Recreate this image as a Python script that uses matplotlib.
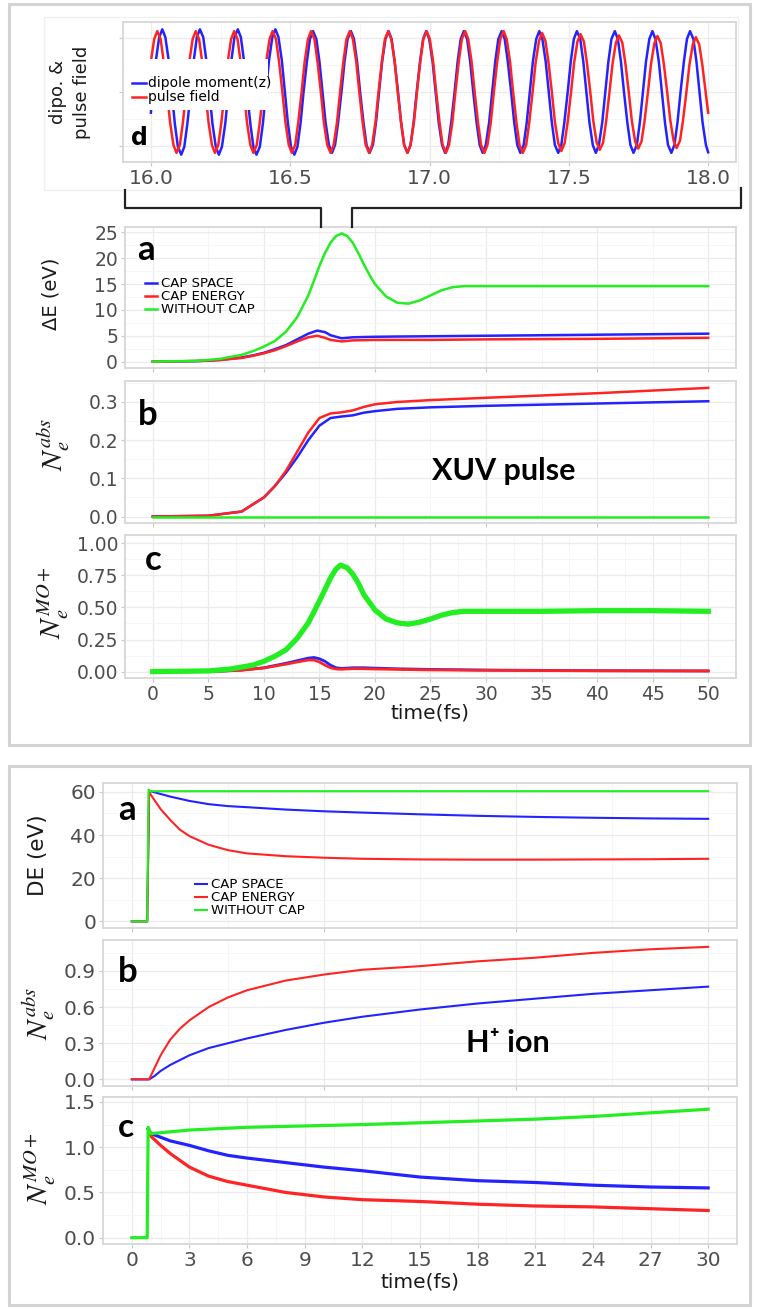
import matplotlib.pyplot as plt
from matplotlib.patches import Rectangle
from matplotlib.lines import Line2D
from matplotlib.ticker import MultipleLocator, FixedLocator, FormatStrFormatter

plt.rcParams['font.family'] = ['DejaVu Sans']
plt.rcParams['mathtext.fontset'] = 'stix'

BLUE = '#2323ff'
RED = '#ff2323'
GREEN = '#22ee22'

# panel d : dipole moment(z) and pulse field, 16-18 fs (one row = one cycle)
d_blue_t = sum([
    [16.000, 16.007, 16.018, 16.030, 16.041, 16.052, 16.064, 16.075, 16.086, 16.097, 16.109, 16.120, 16.131],
    [16.143, 16.154, 16.165, 16.176, 16.188, 16.199, 16.210, 16.221, 16.233, 16.244, 16.255, 16.267],
    [16.278, 16.289, 16.300, 16.312, 16.323, 16.334, 16.345, 16.357, 16.368, 16.379, 16.391, 16.402],
    [16.413, 16.424, 16.436, 16.447, 16.458, 16.470, 16.481, 16.492, 16.503, 16.515, 16.526, 16.537],
    [16.548, 16.560, 16.571, 16.582, 16.594, 16.605, 16.616, 16.627, 16.639, 16.650, 16.661, 16.672],
    [16.684, 16.695, 16.706, 16.718, 16.729, 16.740, 16.751, 16.763, 16.774, 16.785, 16.797, 16.808],
    [16.819, 16.830, 16.842, 16.853, 16.864, 16.875, 16.887, 16.898, 16.909, 16.921, 16.932, 16.943],
    [16.954, 16.966, 16.977, 16.988, 16.999, 17.011, 17.022, 17.033, 17.045, 17.056, 17.067, 17.078],
    [17.090, 17.101, 17.112, 17.123, 17.135, 17.146, 17.157, 17.169, 17.180, 17.191, 17.202, 17.214],
    [17.225, 17.236, 17.247, 17.259, 17.270, 17.281, 17.293, 17.304, 17.315, 17.326, 17.338, 17.349],
    [17.360, 17.371, 17.383, 17.394, 17.405, 17.417, 17.428, 17.439, 17.450, 17.462, 17.473, 17.484],
    [17.496, 17.507, 17.518, 17.529, 17.541, 17.552, 17.563, 17.574, 17.586, 17.597, 17.608, 17.620],
    [17.631, 17.642, 17.653, 17.665, 17.676, 17.687, 17.698, 17.710, 17.721, 17.732, 17.744, 17.755],
    [17.766, 17.777, 17.789, 17.800, 17.811, 17.823, 17.834, 17.845, 17.856, 17.868, 17.879, 17.890],
    [17.901, 17.913, 17.924, 17.935, 17.947, 17.958, 17.969, 17.980, 17.992, 18.000],
], [])
d_blue_v = sum([
    [-0.34, 0.00, 0.52, 0.90, 1.03, 0.90, 0.52, 0.00, -0.52, -0.90, -1.03, -0.90, -0.52],
    [0.00, 0.52, 0.90, 1.03, 0.90, 0.52, 0.00, -0.52, -0.90, -1.03, -0.90, -0.52],
    [0.00, 0.52, 0.90, 1.03, 0.90, 0.52, 0.00, -0.52, -0.90, -1.03, -0.90, -0.52],
    [0.00, 0.52, 0.90, 1.03, 0.90, 0.52, 0.00, -0.52, -0.90, -1.03, -0.90, -0.52],
    [0.00, 0.50, 0.87, 1.00, 0.87, 0.50, 0.00, -0.50, -0.87, -1.00, -0.87, -0.50],
    [0.00, 0.50, 0.87, 1.00, 0.87, 0.50, 0.00, -0.50, -0.87, -1.00, -0.87, -0.50],
    [0.00, 0.50, 0.87, 1.00, 0.87, 0.50, 0.00, -0.50, -0.87, -1.00, -0.87, -0.50],
    [0.00, 0.50, 0.87, 1.00, 0.87, 0.50, 0.00, -0.50, -0.87, -1.00, -0.87, -0.50],
    [0.00, 0.50, 0.87, 1.00, 0.87, 0.50, 0.00, -0.50, -0.87, -1.00, -0.87, -0.50],
    [0.00, 0.50, 0.87, 1.00, 0.87, 0.50, 0.00, -0.50, -0.87, -1.00, -0.87, -0.50],
    [0.00, 0.50, 0.87, 1.00, 0.87, 0.50, 0.00, -0.50, -0.87, -1.00, -0.87, -0.50],
    [0.00, 0.50, 0.87, 1.00, 0.87, 0.50, 0.00, -0.50, -0.87, -1.00, -0.87, -0.50],
    [0.00, 0.50, 0.87, 1.00, 0.87, 0.50, 0.00, -0.50, -0.87, -1.00, -0.87, -0.50],
    [0.00, 0.50, 0.87, 1.00, 0.87, 0.50, 0.00, -0.50, -0.87, -1.00, -0.87, -0.50],
    [0.00, 0.50, 0.87, 1.00, 0.87, 0.50, 0.00, -0.50, -0.87, -0.99],
], [])
d_red_t = sum([
    [16.000, 16.012, 16.023, 16.035, 16.046, 16.058, 16.069, 16.081, 16.092, 16.104, 16.115],
    [16.127, 16.138, 16.150, 16.161, 16.173, 16.184, 16.196, 16.207, 16.219, 16.230, 16.242, 16.253],
    [16.265, 16.276, 16.288, 16.299, 16.311, 16.322, 16.334, 16.345, 16.357, 16.368, 16.380, 16.391],
    [16.403, 16.414, 16.426, 16.437, 16.449, 16.460, 16.472, 16.483, 16.495, 16.506, 16.518, 16.529],
    [16.541, 16.552, 16.564, 16.575, 16.587, 16.598, 16.610, 16.621, 16.633, 16.645, 16.656, 16.668],
    [16.679, 16.691, 16.702, 16.714, 16.725, 16.737, 16.748, 16.760, 16.771, 16.783, 16.794, 16.806],
    [16.817, 16.829, 16.840, 16.852, 16.863, 16.875, 16.886, 16.898, 16.909, 16.921, 16.932, 16.944],
    [16.955, 16.967, 16.978, 16.990, 17.001, 17.013, 17.024, 17.036, 17.047, 17.059, 17.070, 17.082],
    [17.093, 17.105, 17.116, 17.128, 17.139, 17.151, 17.162, 17.174, 17.185, 17.197, 17.208, 17.220],
    [17.231, 17.243, 17.254, 17.266, 17.277, 17.289, 17.300, 17.312, 17.323, 17.335, 17.347, 17.358],
    [17.370, 17.381, 17.393, 17.404, 17.416, 17.427, 17.439, 17.450, 17.462, 17.473, 17.485, 17.496],
    [17.508, 17.519, 17.531, 17.542, 17.554, 17.565, 17.577, 17.588, 17.600, 17.611, 17.623, 17.634],
    [17.646, 17.657, 17.669, 17.680, 17.692, 17.703, 17.715, 17.726, 17.738, 17.749, 17.761, 17.772],
    [17.784, 17.795, 17.807, 17.818, 17.830, 17.841, 17.853, 17.864, 17.876, 17.887, 17.899, 17.910],
    [17.922, 17.933, 17.945, 17.956, 17.968, 17.979, 17.991, 18.000],
], [])
d_red_v = sum([
    [0.50, 0.87, 1.00, 0.87, 0.50, 0.00, -0.50, -0.87, -1.00, -0.87, -0.50],
    [0.00, 0.50, 0.87, 1.00, 0.87, 0.50, 0.00, -0.50, -0.87, -1.00, -0.87, -0.50],
    [0.00, 0.50, 0.87, 1.00, 0.87, 0.50, 0.00, -0.50, -0.87, -1.00, -0.87, -0.50],
    [0.00, 0.50, 0.87, 1.00, 0.87, 0.50, 0.00, -0.50, -0.87, -1.00, -0.87, -0.50],
    [0.00, 0.50, 0.87, 1.00, 0.87, 0.50, 0.00, -0.50, -0.87, -1.00, -0.87, -0.50],
    [0.00, 0.50, 0.87, 1.00, 0.87, 0.50, 0.00, -0.50, -0.87, -1.00, -0.87, -0.50],
    [0.00, 0.50, 0.87, 1.00, 0.87, 0.50, 0.00, -0.50, -0.87, -1.00, -0.87, -0.50],
    [0.00, 0.50, 0.87, 1.00, 0.87, 0.50, 0.00, -0.50, -0.87, -1.00, -0.87, -0.50],
    [0.00, 0.50, 0.87, 1.00, 0.87, 0.50, 0.00, -0.50, -0.87, -1.00, -0.87, -0.50],
    [0.00, 0.50, 0.87, 1.00, 0.87, 0.50, 0.00, -0.50, -0.87, -1.00, -0.87, -0.50],
    [0.00, 0.49, 0.84, 0.97, 0.84, 0.49, 0.00, -0.49, -0.84, -0.97, -0.84, -0.49],
    [0.00, 0.48, 0.83, 0.95, 0.83, 0.48, 0.00, -0.48, -0.83, -0.95, -0.83, -0.48],
    [0.00, 0.47, 0.81, 0.93, 0.81, 0.47, 0.00, -0.47, -0.81, -0.93, -0.81, -0.47],
    [0.00, 0.46, 0.80, 0.92, 0.80, 0.46, 0.00, -0.46, -0.80, -0.92, -0.80, -0.46],
    [0.00, 0.45, 0.78, 0.90, 0.78, 0.45, 0.00, -0.34],
], [])

# XUV pulse block, 0-50 fs
xuv_de_t_green = [0, 4, 6, 8, 9, 10, 11, 12, 13, 14, 14.5, 15, 15.5, 16, 16.5, 17, 17.5, 18,
                  18.5, 19, 19.5, 20, 21, 22, 23, 24, 25, 26, 27, 28, 30, 40, 50]
xuv_de_green = [0, 0.15, 0.5, 1.3, 2.0, 2.9, 4.0, 5.8, 8.6, 12.8, 15.6, 18.5, 21.0, 23.0, 24.3,
                24.8, 24.3, 23.0, 21.0, 18.8, 16.8, 15.0, 12.6, 11.4, 11.2, 11.8, 12.8, 13.8,
                14.4, 14.6, 14.6, 14.6, 14.6]
xuv_de_t_cap = [0, 4, 6, 8, 9, 10, 11, 12, 13, 14, 14.8, 15.5, 16, 17, 18, 20, 22, 25, 30, 40, 50]
xuv_de_space = [0, 0.1, 0.3, 0.8, 1.2, 1.7, 2.4, 3.2, 4.3, 5.4, 6.0, 5.7, 5.1, 4.5, 4.7, 4.8,
                4.85, 4.9, 5.0, 5.2, 5.4]
xuv_de_energy = [0, 0.1, 0.3, 0.7, 1.1, 1.6, 2.2, 3.0, 3.9, 4.7, 5.0, 4.6, 4.2, 3.9, 4.1, 4.2,
                 4.2, 4.2, 4.3, 4.4, 4.6]

xuv_abs_t = [0, 5, 8, 10, 11, 12, 13, 14, 15, 16, 17, 18, 19, 20, 22, 25, 30, 40, 50]
xuv_abs_space = [0, 0.002, 0.013, 0.05, 0.08, 0.115, 0.155, 0.20, 0.238, 0.258, 0.262, 0.265,
                 0.272, 0.276, 0.282, 0.286, 0.290, 0.296, 0.302]
xuv_abs_energy = [0, 0.002, 0.013, 0.05, 0.08, 0.12, 0.17, 0.22, 0.258, 0.27, 0.273, 0.278,
                  0.287, 0.294, 0.300, 0.305, 0.311, 0.323, 0.337]
xuv_abs_t_green = [0, 50]
xuv_abs_green = [0, 0]

xuv_mo_t_green = [0, 5, 7, 8, 9, 10, 11, 12, 13, 14, 15, 15.5, 16, 16.5, 16.9, 17.5, 18, 18.5,
                  19, 19.5, 20, 21, 22, 23, 24, 25, 26, 27, 28, 30, 35, 40, 45, 50]
xuv_mo_green = [0, 0.005, 0.02, 0.035, 0.05, 0.08, 0.12, 0.17, 0.26, 0.38, 0.55, 0.64, 0.73,
                0.80, 0.83, 0.81, 0.76, 0.69, 0.60, 0.54, 0.48, 0.41, 0.38, 0.37, 0.385, 0.41,
                0.44, 0.46, 0.47, 0.47, 0.47, 0.475, 0.475, 0.47]
xuv_mo_t_cap = [0, 6, 8, 10, 12, 13, 14, 14.5, 15, 15.5, 16, 16.5, 17, 18, 19, 20, 22, 25, 30,
                40, 50]
xuv_mo_space = [0, 0.003, 0.012, 0.03, 0.065, 0.085, 0.105, 0.11, 0.10, 0.08, 0.05, 0.03,
                0.025, 0.03, 0.03, 0.027, 0.022, 0.017, 0.012, 0.007, 0.005]
xuv_mo_energy = [0, 0.003, 0.011, 0.028, 0.058, 0.075, 0.09, 0.09, 0.075, 0.05, 0.03, 0.02,
                 0.018, 0.023, 0.022, 0.02, 0.017, 0.013, 0.01, 0.006, 0.005]

# H+ ion block, 0-30 fs
ion_de_t_green = [0, 0.8, 0.87, 0.95, 1.2, 30]
ion_de_green = [0, 0, 61.0, 60.4, 60.3, 60.3]
ion_de_t_space = [0, 0.8, 0.9, 1.5, 2, 3, 4, 5, 6, 8, 10, 12, 15, 18, 21, 24, 27, 30]
ion_de_space = [0, 0, 60.5, 59.0, 57.8, 55.8, 54.3, 53.4, 52.9, 51.8, 51.0, 50.4, 49.6, 48.9,
                48.4, 48.0, 47.7, 47.5]
ion_de_t_energy = [0, 0.8, 0.9, 1.0, 1.5, 2, 2.5, 3, 4, 5, 6, 8, 10, 12, 15, 18, 21, 24, 27, 30]
ion_de_energy = [0, 0, 60.0, 58.5, 52.0, 47.0, 42.5, 39.5, 35.5, 33.0, 31.5, 30.2, 29.5, 29.0,
                 28.7, 28.6, 28.6, 28.7, 28.8, 29.0]

ion_abs_t = [0, 0.9, 1.2, 1.5, 2, 2.5, 3, 4, 5, 6, 8, 10, 12, 15, 18, 21, 24, 27, 30]
ion_abs_space = [0, 0, 0.03, 0.07, 0.12, 0.16, 0.20, 0.26, 0.30, 0.34, 0.41, 0.47, 0.52, 0.58,
                 0.63, 0.67, 0.71, 0.74, 0.77]
ion_abs_energy = [0, 0, 0.10, 0.20, 0.33, 0.42, 0.49, 0.60, 0.68, 0.74, 0.82, 0.87, 0.91, 0.94,
                  0.98, 1.01, 1.05, 1.08, 1.10]

ion_mo_t_green = [0, 0.8, 0.85, 1.0, 1.5, 2, 3, 4, 6, 8, 10, 12, 15, 18, 21, 24, 27, 30]
ion_mo_green = [0, 0, 1.22, 1.15, 1.16, 1.17, 1.19, 1.20, 1.22, 1.23, 1.24, 1.25, 1.27, 1.29,
                1.31, 1.34, 1.38, 1.42]
ion_mo_t_cap = [0.85, 1.0, 1.5, 2, 3, 4, 5, 6, 8, 10, 12, 15, 18, 21, 24, 27, 30]
ion_mo_space = [1.20, 1.15, 1.11, 1.07, 1.02, 0.96, 0.91, 0.88, 0.83, 0.78, 0.74, 0.67, 0.63,
                0.61, 0.58, 0.56, 0.55]
ion_mo_energy = [1.20, 1.12, 1.02, 0.93, 0.78, 0.68, 0.62, 0.58, 0.50, 0.45, 0.42, 0.40, 0.37,
                 0.35, 0.34, 0.32, 0.30]

legend_labels = ['CAP SPACE', 'CAP ENERGY', 'WITHOUT CAP']

W, H = 758, 1310
fig = plt.figure(figsize=(W / 100, H / 100), dpi=100)


def fx(x):
    return x / W


def fy(y):
    return 1 - y / H


def add_ax(x0, y0, x1, y1):
    return fig.add_axes([x0 / W, 1 - y1 / H, (x1 - x0) / W, (y1 - y0) / H])


def style(ax, xlim, ylim, xmaj, xmin, ymaj, ymin, yfmt, fs, xlabels=False, xfmt='%g'):
    ax.set_xlim(*xlim)
    ax.set_ylim(*ylim)
    for sp in ax.spines.values():
        sp.set_color('#d9d9d9')
        sp.set_linewidth(1.4)
    ax.xaxis.set_major_locator(MultipleLocator(xmaj))
    ax.xaxis.set_minor_locator(MultipleLocator(xmin))
    if ymaj is not None:
        ax.yaxis.set_major_locator(MultipleLocator(ymaj))
        ax.yaxis.set_minor_locator(MultipleLocator(ymin))
        ax.yaxis.set_major_formatter(FormatStrFormatter(yfmt))
    ax.xaxis.set_major_formatter(FormatStrFormatter(xfmt))
    ax.grid(True, which='major', color='#ebebeb', lw=0.9)
    ax.grid(True, which='minor', color='#f5f5f5', lw=0.6)
    ax.set_axisbelow(True)
    ax.tick_params(which='major', length=3, width=0.8, color='#c8c8c8', labelsize=fs,
                   labelcolor='#4d4d4d', pad=2)
    ax.tick_params(which='minor', length=0)
    if not xlabels:
        ax.tick_params(axis='x', labelbottom=False)


def letter(x, y, s, size=25, family=('Lato', 'DejaVu Sans')):
    fig.text(fx(x), fy(y), s, fontsize=size, fontweight='bold', family=list(family),
             ha='left', va='baseline', color='black')


def ylab(x, y, s, size):
    fig.text(fx(x), fy(y), s, fontsize=size, rotation=90, ha='center', va='center',
             color='#1a1a1a', multialignment='center', linespacing=1.45)


def cap_legend(ax, anchor, fs):
    ax.legend(loc='center left', bbox_to_anchor=anchor, frameon=False, fontsize=fs,
              handlelength=0.9, handletextpad=0.35, labelspacing=0.0, borderpad=0,
              borderaxespad=0)


# outer frames of the two figure blocks
for (x0, y0, x1, y1) in [(9, 4, 750, 745), (9, 766, 750, 1305)]:
    fig.add_artist(Rectangle((fx(x0), fy(y1)), (x1 - x0) / W, (y1 - y0) / H,
                             transform=fig.transFigure, fill=False, ec='#d3d3d3', lw=2.2))
fig.add_artist(Rectangle((fx(44), fy(190)), 694 / W, 173 / H, transform=fig.transFigure,
                         fill=False, ec='#f0f0f0', lw=1))

# ---- panel d ----
ax_d = add_ax(123, 22, 736, 162)
ax_d.plot(d_blue_t, d_blue_v, color=BLUE, lw=1.8, label='dipole moment(z)')
ax_d.plot(d_red_t, d_red_v, color=RED, lw=1.8, label='pulse field')
style(ax_d, (15.9, 18.1), (-1.15, 1.15), 0.5, 0.25, None, None, None, 14.5, True, '%.1f')
ax_d.yaxis.set_major_locator(FixedLocator([-0.88, 0, 0.88]))
ax_d.yaxis.set_minor_locator(FixedLocator([-0.44, 0.44]))
ax_d.tick_params(axis='y', labelleft=False)
ax_d.add_patch(Rectangle((0.004, 0.371), 0.2325, 0.365, transform=ax_d.transAxes,
                         fc='white', ec='none', zorder=3))
ax_d.legend(loc='center left', bbox_to_anchor=(0.0147, 0.511), frameon=False, fontsize=10,
            handlelength=1.0, handletextpad=0.15, labelspacing=0.0, borderpad=0,
            borderaxespad=0)
ylab(70, 92, 'dipo. &\npulse field', 13)
letter(131, 145, 'd', 17, ('DejaVu Sans',))

# brackets linking panel d to the time axis below
fig.add_artist(Line2D([fx(125), fx(125), fx(321), fx(321)], [fy(190), fy(208), fy(208), fy(227)],
                      color='#222222', lw=1.6, transform=fig.transFigure))
fig.add_artist(Line2D([fx(352), fx(352), fx(741), fx(741)], [fy(227), fy(208), fy(208), fy(188)],
                      color='#222222', lw=1.6, transform=fig.transFigure))

# ---- XUV pulse: a, b, c ----
ax_a = add_ax(125, 227, 736, 368)
ax_a.plot(xuv_de_t_cap, xuv_de_space, color=BLUE, lw=1.8, label=legend_labels[0])
ax_a.plot(xuv_de_t_cap, xuv_de_energy, color=RED, lw=1.8, label=legend_labels[1])
ax_a.plot(xuv_de_t_green, xuv_de_green, color=GREEN, lw=1.8, label=legend_labels[2])
style(ax_a, (-2.5, 52.5), (-1.24, 26.04), 10, 5, 5, 2.5, '%g', 13.5)
cap_legend(ax_a, (0.0327, 0.504), 9.5)
ylab(51, 294, 'ΔE (eV)', 14)
letter(137, 260, 'a')

ax_b = add_ax(125, 381, 736, 523)
ax_b.plot(xuv_abs_t, xuv_abs_space, color=BLUE, lw=1.8)
ax_b.plot(xuv_abs_t, xuv_abs_energy, color=RED, lw=1.8)
ax_b.plot(xuv_abs_t_green, xuv_abs_green, color=GREEN, lw=1.8)
style(ax_b, (-2.5, 52.5), (-0.017, 0.355), 10, 5, 0.1, 0.05, '%.1f', 13.5)
ylab(54, 445, r'$N_e^{abs}$', 21)
letter(138, 425, 'b')
fig.text(fx(432), fy(480), 'XUV pulse', fontsize=22, fontweight='bold',
         family=['Lato', 'DejaVu Sans'], ha='left', va='baseline')

ax_c = add_ax(125, 535, 736, 678)
ax_c.plot(xuv_mo_t_cap, xuv_mo_space, color=BLUE, lw=2.0)
ax_c.plot(xuv_mo_t_cap, xuv_mo_energy, color=RED, lw=2.0)
ax_c.plot(xuv_mo_t_green, xuv_mo_green, color=GREEN, lw=3.8)
style(ax_c, (-2.5, 52.5), (-0.05, 1.065), 5, 2.5, 0.25, 0.125, '%.2f', 13.5, True)
ylab(53, 603, r'$N_e^{MO+}$', 21)
letter(145, 570, 'c')
fig.text(fx(430), fy(713), 'time(fs)', fontsize=14.5, ha='center', va='center', color='#1a1a1a')

# ---- H+ ion: a, b, c ----
ax_a2 = add_ax(103, 783, 737, 928)
ax_a2.plot(ion_de_t_space, ion_de_space, color=BLUE, lw=1.5, label=legend_labels[0])
ax_a2.plot(ion_de_t_energy, ion_de_energy, color=RED, lw=1.5, label=legend_labels[1])
ax_a2.plot(ion_de_t_green, ion_de_green, color=GREEN, lw=1.5, label=legend_labels[2])
style(ax_a2, (-1.5, 31.5), (-3.05, 64.1), 10, 5, 20, 10, '%g', 14.5)
cap_legend(ax_a2, (0.145, 0.207), 9.5)
ylab(38, 855, 'DE (eV)', 15.5)
letter(118, 820, 'a')

ax_b2 = add_ax(103, 940, 737, 1086)
ax_b2.plot(ion_abs_t, ion_abs_space, color=BLUE, lw=1.5)
ax_b2.plot(ion_abs_t, ion_abs_energy, color=RED, lw=1.5)
style(ax_b2, (-1.5, 31.5), (-0.055, 1.157), 10, 5, 0.3, 0.15, '%.1f', 14.5)
ylab(39, 1014, r'$N_e^{abs}$', 21)
letter(118, 982, 'b')
fig.text(fx(466), fy(1052), 'H⁺ ion', fontsize=22, fontweight='bold',
         family=['Lato', 'DejaVu Sans'], ha='left', va='baseline')

ax_c2 = add_ax(103, 1097, 737, 1244)
ax_c2.plot(ion_mo_t_cap, ion_mo_space, color=BLUE, lw=2.3)
ax_c2.plot(ion_mo_t_cap, ion_mo_energy, color=RED, lw=2.3)
ax_c2.plot(ion_mo_t_green, ion_mo_green, color=GREEN, lw=2.3)
style(ax_c2, (-1.5, 31.5), (-0.07, 1.555), 3, 1.5, 0.5, 0.25, '%.1f', 14.5, True)
ylab(40, 1169, r'$N_e^{MO+}$', 21)
letter(118, 1137, 'c', 24)
fig.text(fx(420), fy(1282), 'time(fs)', fontsize=14.5, ha='center', va='center', color='#1a1a1a')

fig.savefig('out.png', dpi=100, facecolor='white')
